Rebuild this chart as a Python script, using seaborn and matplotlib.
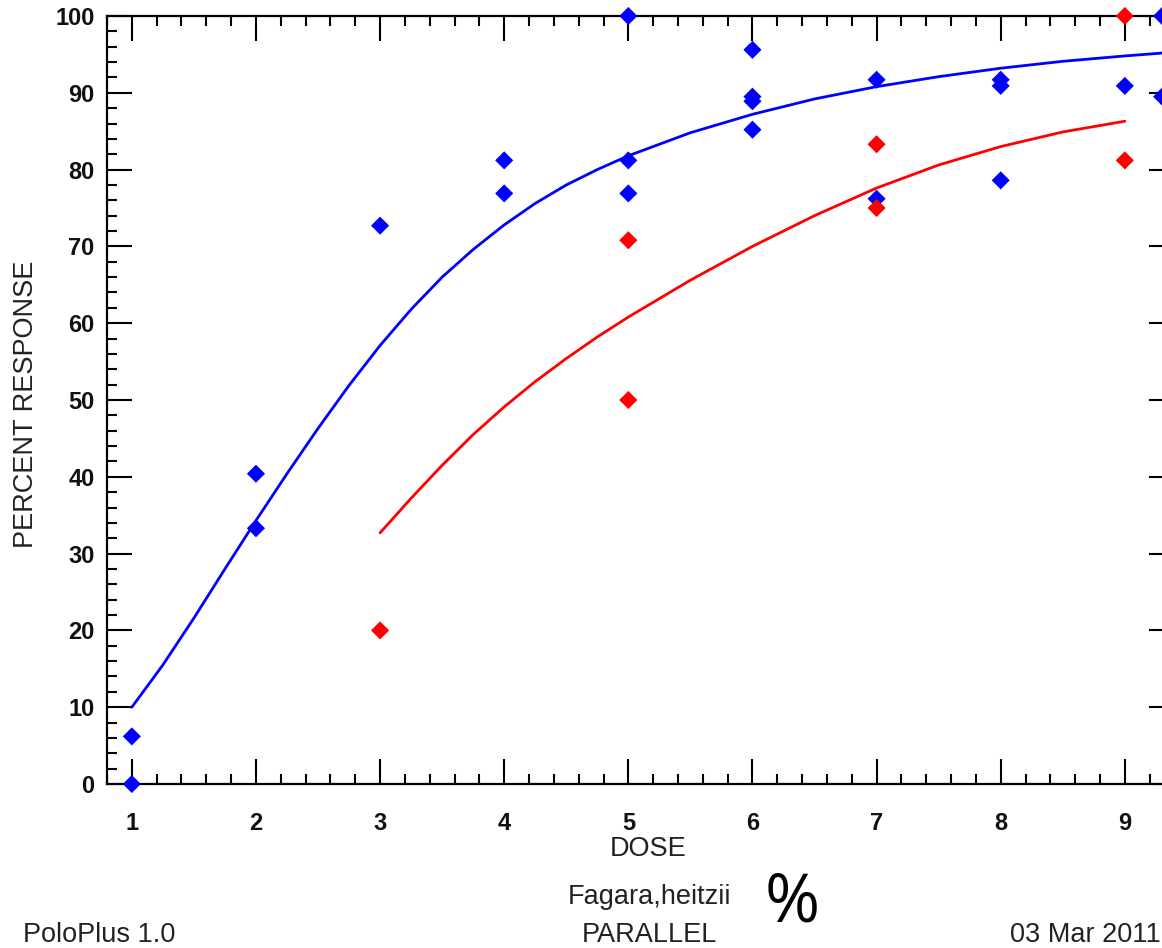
import pandas as pd
import seaborn as sns
import matplotlib.pyplot as plt
from matplotlib.ticker import MultipleLocator

blue_dose = [1, 1, 2, 2, 3, 4, 4, 5, 5, 5, 6, 6, 6, 6, 7, 7, 8, 8, 8, 9, 9.3, 9.3]
blue_resp = [6.2, 0, 40.4, 33.3, 72.7, 81.2, 76.9, 100, 81.2, 76.9,
             95.6, 89.5, 88.9, 85.2, 91.7, 76.2, 91.7, 90.9, 78.6, 90.9, 100, 89.5]
red_dose = [3, 5, 5, 7, 7, 9, 9]
red_resp = [20, 70.8, 50, 83.3, 75, 100, 81.2]

# fitted curves
blue_fit_dose = [1.0, 1.25, 1.5, 1.75, 2.0, 2.25, 2.5, 2.75, 3.0, 3.25, 3.5, 3.75,
                 4.0, 4.25, 4.5, 4.75, 5.0, 5.5, 6.0, 6.5, 7.0, 7.5, 8.0, 8.5, 9.0, 9.4]
blue_fit_resp = [10.0, 15.5, 21.6, 28.0, 34.3, 40.4, 46.3, 51.9, 57.1, 61.8, 66.0, 69.6,
                 72.8, 75.6, 78.0, 80.0, 81.8, 84.8, 87.2, 89.2, 90.8, 92.1, 93.2, 94.1, 94.8, 95.3]
red_fit_dose = [3.0, 3.25, 3.5, 3.75, 4.0, 4.25, 4.5, 4.75, 5.0, 5.5, 6.0, 6.5,
                7.0, 7.5, 8.0, 8.5, 9.0]
red_fit_resp = [32.7, 37.2, 41.5, 45.5, 49.1, 52.4, 55.4, 58.2, 60.8, 65.6, 70.0, 74.0,
                77.6, 80.6, 83.0, 84.9, 86.3]

x_ticks = [1, 2, 3, 4, 5, 6, 7, 8, 9]
y_ticks = [0, 10, 20, 30, 40, 50, 60, 70, 80, 90, 100]

points = pd.DataFrame({
    'dose': blue_dose + red_dose,
    'resp': blue_resp + red_resp,
    'group': ['blue'] * len(blue_dose) + ['red'] * len(red_dose),
})
fits = pd.DataFrame({
    'dose': blue_fit_dose + red_fit_dose,
    'resp': blue_fit_resp + red_fit_resp,
    'group': ['blue'] * len(blue_fit_dose) + ['red'] * len(red_fit_dose),
})
palette = {'blue': '#0000ff', 'red': '#ff0000'}

sns.set_style('ticks')
plt.rcParams['font.family'] = ['Liberation Sans', 'DejaVu Sans']

fig = plt.figure(figsize=(11.62, 9.48), dpi=100)
W, H = 1162, 948
x0, x1 = 0.8, 9.4
left_px, top_px, bottom_px = 107, 16, 784
px_per_unit = 124.125
right_px = left_px + (x1 - x0) * px_per_unit
ax = fig.add_axes([left_px / W, 1 - bottom_px / H,
                   (right_px - left_px) / W, (bottom_px - top_px) / H])

sns.lineplot(data=fits, x='dose', y='resp', hue='group', palette=palette,
             estimator=None, sort=False, linewidth=2.0, legend=False, ax=ax)
sns.scatterplot(data=points, x='dose', y='resp', hue='group', palette=palette,
                marker='D', s=85, linewidth=0, legend=False, ax=ax,
                clip_on=False, zorder=5)

ax.set_xlim(x0, x1)
ax.set_ylim(0, 100)
ax.set_xticks(x_ticks)
ax.set_yticks(y_ticks)
ax.xaxis.set_minor_locator(MultipleLocator(0.2))
ax.yaxis.set_minor_locator(MultipleLocator(2))
ax.tick_params(which='both', direction='in', top=True, right=True,
               width=1.5, color='black')
ax.tick_params(which='major', length=18)
ax.tick_params(which='minor', length=7.5)
ax.tick_params(axis='x', which='major', pad=20)
ax.tick_params(axis='y', which='major', pad=9)
for lbl in ax.get_xticklabels() + ax.get_yticklabels():
    lbl.set_fontsize(17)
    lbl.set_fontweight('bold')
    lbl.set_color('#111111')
for sp in ax.spines.values():
    sp.set_linewidth(1.6)
    sp.set_color('black')

ax.set_xlabel('DOSE', fontsize=19.5, color='#222222')
ax.set_ylabel('PERCENT RESPONSE', fontsize=19.5, color='#222222')
ax.xaxis.set_label_coords((648 - left_px) / (right_px - left_px),
                          -(856 - bottom_px) / (bottom_px - top_px))
ax.xaxis.label.set_va('baseline')
ax.yaxis.set_label_coords(-(107 - 26) / (right_px - left_px), 0.495)
ax.yaxis.label.set_va('center')

fig.text(649 / W, 1 - 904 / H, 'Fagara,heitzii', ha='center', va='baseline',
         fontsize=19.5, color='#222222')
fig.text(649 / W, 1 - 942 / H, 'PARALLEL', ha='center', va='baseline',
         fontsize=19.5, color='#222222')
fig.text(23 / W, 1 - 942 / H, 'PoloPlus 1.0', ha='left', va='baseline',
         fontsize=19.5, color='#222222')
fig.text(1161 / W, 1 - 942 / H, '03 Mar 2011', ha='right', va='baseline',
         fontsize=19.5, color='#222222')
fig.text(792 / W, 1 - 921 / H, '%', ha='center', va='baseline',
         fontsize=48, color='black', family=['Open Sans', 'DejaVu Sans'])

fig.savefig('out.png', dpi=100, facecolor='white')
